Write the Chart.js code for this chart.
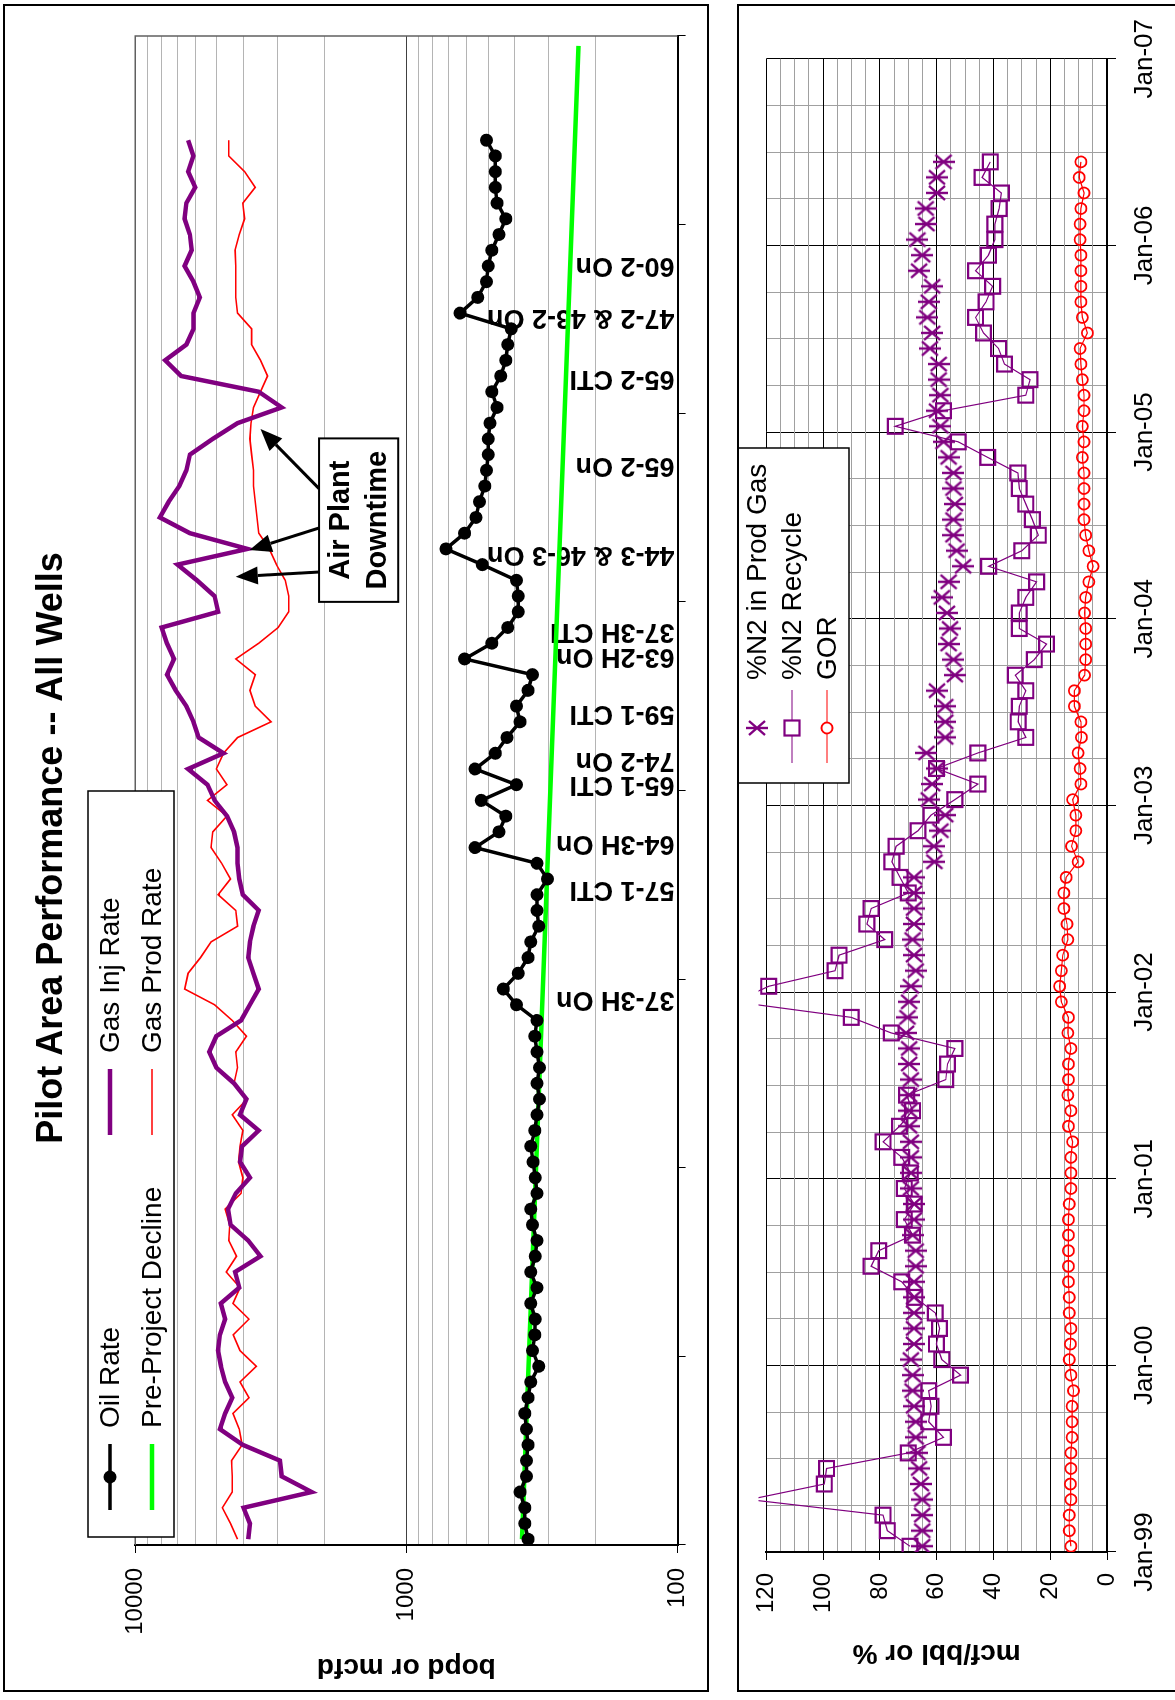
<!DOCTYPE html>
<html>
<head>
<meta charset="utf-8">
<title>Pilot Area Performance -- All Wells</title>
<script src="https://cdn.jsdelivr.net/npm/chart.js"></script>
<style>
  html, body { margin: 0; padding: 0; background: #fff; }
  body { width: 1175px; height: 1700px; overflow: hidden; position: relative; }
  /* the sheet is laid out landscape, then turned a quarter turn */
  #page { position: absolute; left: 0; top: 1700px; width: 1700px; height: 1175px;
          transform-origin: 0 0; transform: rotate(-90deg); }
  .frame { position: absolute; border: 2px solid #000; box-sizing: border-box; background: #fff; overflow: hidden; }
  #rateFrame { left: 8px; top: 3px; width: 1688px; height: 706px; }
  #ratioFrame { left: 8px; top: 737px; width: 1688px; height: 500px; }
  canvas { display: block; }
</style>
</head>
<body>
<div id="page">
  <div class="frame" id="rateFrame"><canvas id="rateChart" width="1684" height="702"></canvas></div>
  <div class="frame" id="ratioFrame"><canvas id="ratioChart" width="1684" height="496"></canvas></div>
</div>
<script>
// months counted from Jan-99, one value per month
const yearLabels = ['Jan-99', 'Jan-00', 'Jan-01', 'Jan-02', 'Jan-03', 'Jan-04', 'Jan-05', 'Jan-06', 'Jan-07'];

const oilRate = [
  356, 366, 366, 381, 361, 361, 356, 361, 366, 356,
  348, 325, 343, 336, 335, 348, 330, 348, 335, 330,
  343, 348, 330, 335, 341, 348, 336, 330, 323, 330,
  323, 330, 336, 330, 393, 439, 387, 356, 348, 325,
  330, 330, 302, 330, 558, 456, 430, 530, 393, 558,
  470, 426, 381, 393, 356, 343, 610, 484, 423, 387,
  387, 393, 525, 715, 610, 554, 538, 514, 507, 499,
  499, 492, 463, 484, 449, 430, 423, 411, 634, 546,
  507, 499, 484, 456, 430, 463, 470, 470, 470, 507
];

const gasInjRate = [
  3832, 3776, 3986, 2235, 2883, 2927, 4010, 4873, 4659, 4387,
  4659, 4830, 4947, 4873, 4659, 4830, 4131, 4282, 3451, 3832,
  4453, 4547, 4256, 3776, 4107, 4034, 3504, 4107, 3890, 4321,
  5022, 5331, 5022, 4071, 3776, 3504, 3664, 3832, 3776, 3664,
  3504, 4010, 4131, 4194, 4194, 4321, 4589, 5097, 5411, 6381,
  4727, 5833, 6099, 6476, 7087, 7638, 7195, 7638, 7988, 4947,
  5097, 5920, 6982, 3855, 6286, 8110, 7522, 6877, 6476, 6286,
  5174, 4194, 2883, 3504, 6775, 7752, 6476, 6099, 6099, 5781,
  6099, 6574, 6192, 6286, 6574, 6476, 6009, 6381, 6099, 6381
];

const gasProdRate = [
  4194, 4453, 4770, 4387, 4387, 4413, 4034, 4131, 4361, 3806,
  4107, 3578, 4107, 4348, 3806, 4361, 4107, 4617, 4231, 4520,
  4481, 4659, 4071, 4010, 4156, 4107, 4010, 4387, 3867, 4321,
  4194, 4256, 3890, 4387, 5097, 6574, 6381, 5745, 5251, 4194,
  4256, 4947, 4453, 4800, 5251, 5174, 4589, 5411, 4589, 5022,
  4727, 4194, 3155, 3610, 3776, 3610, 4256, 3504, 2971, 2716,
  2716, 2798, 3015, 3202, 3504, 3556, 3610, 3664, 3664, 3720,
  3776, 3742, 3664, 3451, 3250, 3451, 3720, 3720, 4194, 4256,
  4256, 4256, 4282, 4131, 3950, 4010, 3610, 3950, 4520, 4520
];

// pre-project decline: straight line on the log scale
const declineMonths = [0, 95];
const declineRate = [375, 232];

const n2ProdGas = [
  65.1, 65.1, 65.1, 65.1, 65.6, 66.2, 66.8, 67.4, 67.4, 68.0,
  68.5, 68.5, 69.1, 68.0, 68.0, 68.0, 68.0, 68.0, 67.4, 67.4,
  68.5, 68.0, 68.0, 69.1, 69.1, 69.1, 69.1, 69.7, 69.7, 69.7,
  69.1, 69.7, 69.7, 70.8, 70.3, 69.7, 69.1, 67.4, 68.0, 68.5,
  68.0, 68.0, 68.0, 68.0, 60.8, 61.0, 58.7, 57.0, 62.8, 61.6,
  59.9, 63.6, 57.0, 57.0, 57.0, 59.9, 53.6, 54.1, 55.8, 55.3,
  56.4, 58.2, 55.8, 50.7, 53.0, 54.1, 54.1, 53.6, 54.1, 54.1,
  55.8, 57.6, 58.7, 59.9, 58.7, 59.3, 59.3, 62.4, 61.6, 63.3,
  62.8, 61.6, 66.2, 65.1, 66.8, 63.6, 63.9, 59.9, 59.9, 57.6
];

const n2Recycle = [
  69.4, 77.4, 78.9, 126, 99.6, 98.8, 70.0, 57.6, 62.8, 62.0,
  62.8, 51.6, 58.2, 60.1, 59.0, 60.5, 67.7, 72.3, 83.1, 80.4,
  68.5, 71.4, 67.9, 71.4, 69.3, 72.3, 78.9, 73.1, 68.5, 70.6,
  56.8, 56.2, 53.6, 76.0, 90.1, 131, 119.2, 95.8, 94.4, 78.3,
  84.6, 83.1, 70.0, 72.9, 75.8, 74.3, 66.6, 62.0, 53.6, 45.5,
  60.1, 45.5, 28.6, 31.3, 30.9, 28.6, 32.3, 25.6, 21.3, 30.9,
  30.9, 28.6, 24.8, 41.7, 30.0, 24.2, 26.3, 28.6, 30.9, 31.4,
  42.0, 52.4, 74.6, 57.6, 28.6, 27.1, 36.1, 38.2, 43.5, 46.3,
  42.6, 40.3, 46.3, 41.8, 39.5, 39.5, 38.0, 37.2, 44.0, 41.1
];

const gor = [
  12.7, 13.3, 13.3, 12.7, 12.9, 12.7, 12.7, 12.3, 12.3, 12.3,
  11.8, 12.7, 13.3, 12.9, 12.7, 13.3, 13.3, 13.6, 13.6, 13.6,
  13.6, 13.6, 13.3, 12.7, 12.7, 12.7, 12.1, 13.6, 12.7, 13.8,
  13.6, 13.6, 12.7, 13.8, 13.6, 16.1, 16.7, 16.1, 15.6, 13.8,
  14.1, 15.2, 15.2, 14.4, 10.2, 12.5, 11.0, 11.0, 12.1, 9.2,
  9.5, 10.2, 9.0, 9.2, 11.5, 11.5, 7.9, 7.5, 7.5, 7.5,
  7.9, 7.5, 6.4, 4.9, 6.4, 7.5, 8.1, 8.1, 8.1, 8.1,
  8.7, 8.1, 8.7, 8.1, 8.1, 8.7, 9.2, 9.5, 6.9, 8.7,
  9.2, 9.2, 9.2, 9.2, 9.5, 9.5, 9.2, 8.1, 9.8, 9.2
];

const rateTickLabels = [100, 1000, 10000];
const ratioTickLabels = [0, 20, 40, 60, 80, 100, 120];

// well events, written along the bottom of the rate plot
const eventLabels = ['37-3H On', '57-1 CTI', '64-3H On', '65-1 CTI', '74-2 On', '59-1 CTI', '63-2H On',
  '37-3H CTI', '44-3 & 46-3 On', '65-2 On', '65-2 CTI', '47-2 & 43-2 On', '60-2 On'];
const eventMonths = [34.7, 41.7, 44.6, 48.4, 49.9, 52.9, 56.5, 58.1, 63.0, 68.7, 74.2, 78.1, 81.4];

const dayOffset = 0.37; // samples sit a little after the 1st of the month
const FONT = '"Liberation Sans", Arial, Helvetica, sans-serif';
Chart.defaults.font.family = FONT;
Chart.defaults.color = '#000';

const monthly = values => values.map((v, i) => ({ x: i + dayOffset, y: v }));

// gridline positions
const rateGrid = [];
for (let d = 100; d < 10000; d *= 10) for (let k = 1; k < 10; k++) rateGrid.push(k * d);
rateGrid.push(10000);
const ratioGrid = [];
for (let v = 0; v <= 120; v += 5) ratioGrid.push(v);
const quarterGrid = [];
for (let m = 0; m <= 96; m += 3) quarterGrid.push(m);

// excel style star: an X with an upright bar
function starMarker() {
  const c = document.createElement('canvas');
  c.width = 18; c.height = 22;
  const g = c.getContext('2d');
  g.strokeStyle = '#800080';
  g.lineWidth = 2.4;
  g.beginPath();
  g.moveTo(2, 3); g.lineTo(16, 19);
  g.moveTo(16, 3); g.lineTo(2, 19);
  g.moveTo(9, 0); g.lineTo(9, 22);
  g.stroke();
  return c;
}
const star = starMarker();

// ---------- rate chart plugins ----------
const rateFrameEdges = {
  id: 'rateFrameEdges',
  beforeDatasetsDraw(chart) {
    const { ctx, chartArea: a } = chart;
    ctx.save();
    ctx.strokeStyle = '#606060';
    ctx.lineWidth = 1.5;
    ctx.beginPath();
    ctx.moveTo(a.left, a.top);
    ctx.lineTo(a.right, a.top);
    ctx.lineTo(a.right, a.bottom);
    ctx.stroke();
    ctx.restore();
  }
};

const eventText = {
  id: 'eventText',
  beforeDatasetsDraw(chart) {
    const { ctx, chartArea, scales: { x } } = chart;
    ctx.save();
    ctx.font = 'bold 27px ' + FONT;
    ctx.fillStyle = '#000';
    ctx.textAlign = 'left';
    ctx.textBaseline = 'middle';
    eventLabels.forEach((t, i) => {
      ctx.save();
      ctx.translate(x.getPixelForValue(eventMonths[i]), chartArea.bottom - 3);
      ctx.rotate(-Math.PI / 2);
      ctx.fillText(t, 0, 0);
      ctx.restore();
    });
    ctx.restore();
  }
};

const rateLegend = {
  id: 'rateLegend',
  afterDatasetsDraw(chart) {
    const ctx = chart.ctx;
    const ds = chart.data.datasets;
    ctx.save();
    ctx.fillStyle = '#fff';
    ctx.fillRect(153, 83, 746, 86);
    ctx.strokeStyle = '#000';
    ctx.lineWidth = 1.5;
    ctx.strokeRect(153, 83, 746, 86);
    const slots = [[180, 105], [180, 147], [555, 105], [555, 147]];
    ctx.font = '28px ' + FONT;
    ctx.textBaseline = 'middle';
    ds.forEach((d, i) => {
      const [lx, ly] = slots[i];
      ctx.strokeStyle = d.borderColor;
      ctx.lineWidth = d.borderWidth;
      ctx.beginPath();
      ctx.moveTo(lx, ly);
      ctx.lineTo(lx + 66, ly);
      ctx.stroke();
      if (d.pointRadius > 0) {
        ctx.fillStyle = d.pointBackgroundColor;
        ctx.beginPath();
        ctx.arc(lx + 33, ly, d.pointRadius, 0, Math.PI * 2);
        ctx.fill();
      }
      ctx.fillStyle = '#000';
      ctx.fillText(d.label, lx + 82, ly + 1);
    });
    ctx.restore();
  }
};

const airPlantNote = {
  id: 'airPlantNote',
  afterDatasetsDraw(chart) {
    const { ctx, scales: { x, y } } = chart;
    const x1 = x.getPixelForValue(60.0), x2 = x.getPixelForValue(70.4);
    const y1 = y.getPixelForValue(2099), y2 = y.getPixelForValue(1072);
    const arrows = [[67.2, 71.0, 3451], [64.7, 63.3, 3789], [61.9, 61.6, 4256]];
    ctx.save();
    ctx.strokeStyle = '#000';
    ctx.fillStyle = '#000';
    arrows.forEach(([fromM, toM, toV]) => {
      const sx = x.getPixelForValue(fromM), sy = y1;
      const tx = x.getPixelForValue(toM), ty = y.getPixelForValue(toV);
      const ang = Math.atan2(ty - sy, tx - sx);
      const head = 22, half = 9;
      const bx = tx - head * Math.cos(ang), by = ty - head * Math.sin(ang);
      ctx.lineWidth = 3;
      ctx.beginPath();
      ctx.moveTo(sx, sy);
      ctx.lineTo(bx, by);
      ctx.stroke();
      ctx.beginPath();
      ctx.moveTo(tx, ty);
      ctx.lineTo(bx + half * Math.sin(ang), by - half * Math.cos(ang));
      ctx.lineTo(bx - half * Math.sin(ang), by + half * Math.cos(ang));
      ctx.closePath();
      ctx.fill();
    });
    ctx.fillStyle = '#fff';
    ctx.fillRect(x1, y1, x2 - x1, y2 - y1);
    ctx.lineWidth = 2;
    ctx.strokeRect(x1, y1, x2 - x1, y2 - y1);
    ctx.fillStyle = '#000';
    ctx.font = 'bold 29px ' + FONT;
    ctx.textAlign = 'center';
    ctx.textBaseline = 'middle';
    ctx.fillText('Air Plant', (x1 + x2) / 2, y1 + 22);
    ctx.fillText('Downtime', (x1 + x2) / 2, y1 + 59);
    ctx.restore();
  }
};

new Chart(document.getElementById('rateChart'), {
  type: 'line',
  data: {
    datasets: [
      { label: 'Oil Rate', data: monthly(oilRate), borderColor: '#000', borderWidth: 3.5,
        pointRadius: 6.5, pointBackgroundColor: '#000', pointBorderWidth: 0, tension: 0 },
      { label: 'Pre-Project Decline', data: declineMonths.map((m, i) => ({ x: m + dayOffset, y: declineRate[i] })),
        borderColor: '#00ff00', borderWidth: 4.5, pointRadius: 0 },
      { label: 'Gas Inj Rate', data: monthly(gasInjRate), borderColor: '#800080', borderWidth: 4.5, pointRadius: 0 },
      { label: 'Gas Prod Rate', data: monthly(gasProdRate), borderColor: '#ff0000', borderWidth: 1.6, pointRadius: 0 }
    ]
  },
  options: {
    responsive: false,
    animation: false,
    layout: { padding: 0 },
    plugins: {
      legend: { display: false },
      tooltip: { enabled: false },
      title: {
        display: true,
        text: 'Pilot Area Performance -- All Wells',
        color: '#000',
        font: { size: 36, weight: 'bold' },
        padding: { top: 25, bottom: 62 }
      }
    },
    scales: {
      x: {
        type: 'linear', min: 0, max: 96, position: 'bottom',
        ticks: { stepSize: 12, autoSkip: false, maxRotation: 0, callback: () => '' },
        grid: { drawOnChartArea: false, tickLength: 8, tickColor: '#000' },
        border: { color: '#000', width: 2 },
        afterFit: s => { s.height = 24; }
      },
      y: {
        type: 'logarithmic', min: 100, max: 10000, position: 'left',
        afterBuildTicks: s => { s.ticks = rateGrid.map(v => ({ value: v })); },
        ticks: {
          autoSkip: false, padding: 15, font: { size: 24 },
          callback: v => rateTickLabels.includes(v) ? String(v) : ''
        },
        grid: {
          color: c => (c.tick && rateTickLabels.includes(c.tick.value)) ? '#404040' : '#b4b4b4',
          tickColor: c => (c.tick && rateTickLabels.includes(c.tick.value)) ? '#000' : 'rgba(0,0,0,0)',
          tickLength: 8
        },
        border: { color: '#000', width: 2 },
        title: { display: true, text: 'bopd or mcfd', font: { size: 28, weight: 'bold' }, padding: { top: 6, bottom: 0 } },
        afterFit: s => { s.width = 145; }
      },
      spacer: {
        type: 'linear', position: 'right', display: true,
        grid: { display: false }, border: { display: false }, ticks: { display: false },
        afterFit: s => { s.width = 30; }
      }
    }
  },
  plugins: [rateFrameEdges, eventText, rateLegend, airPlantNote]
});

// ---------- ratio chart ----------
const ratioLegend = {
  id: 'ratioLegend',
  afterDatasetsDraw(chart) {
    const ctx = chart.ctx;
    const ds = chart.data.datasets;
    ctx.save();
    ctx.fillStyle = '#fff';
    ctx.fillRect(907, -1, 335, 111);
    ctx.strokeStyle = '#000';
    ctx.lineWidth = 1.5;
    ctx.strokeRect(907, -1, 335, 111);
    ctx.font = '28px ' + FONT;
    ctx.textBaseline = 'middle';
    const rows = [18, 53, 88];
    const mx = 962;
    ds.forEach((d, i) => {
      const ly = rows[i];
      if (d.showLine !== false) {
        ctx.strokeStyle = d.borderColor;
        ctx.lineWidth = 1.2;
        ctx.beginPath();
        ctx.moveTo(mx - 35, ly);
        ctx.lineTo(mx + 38, ly);
        ctx.stroke();
      }
      if (i === 0) {
        ctx.drawImage(star, mx - 9, ly - 11);
      } else if (i === 1) {
        ctx.fillStyle = '#fff';
        ctx.fillRect(mx - 7.5, ly - 7.5, 15, 15);
        ctx.strokeStyle = '#800080';
        ctx.lineWidth = 2.2;
        ctx.strokeRect(mx - 7.5, ly - 7.5, 15, 15);
      } else {
        ctx.fillStyle = '#fff';
        ctx.strokeStyle = '#ff0000';
        ctx.lineWidth = 1.8;
        ctx.beginPath();
        ctx.arc(mx, ly, 5.5, 0, Math.PI * 2);
        ctx.fill();
        ctx.stroke();
      }
      ctx.fillStyle = '#000';
      ctx.fillText(d.label, 1010, ly + 1);
    });
    ctx.restore();
  }
};

new Chart(document.getElementById('ratioChart'), {
  type: 'line',
  data: {
    datasets: [
      { label: '%N2 in Prod Gas', data: monthly(n2ProdGas), showLine: false,
        pointStyle: star, pointRadius: 9, borderColor: '#800080' },
      { label: '%N2 Recycle', data: monthly(n2Recycle), borderColor: '#800080', borderWidth: 1.2,
        pointStyle: 'rect', pointRadius: c => (c.raw && c.raw.y > 120) ? 0 : 10.5,
        pointBorderColor: '#800080', pointBackgroundColor: 'rgba(0,0,0,0)', pointBorderWidth: 2.2,
        clip: { left: 0, top: 8, right: 0, bottom: 0 } },
      { label: 'GOR', data: monthly(gor), borderColor: '#ff0000', borderWidth: 1.2,
        pointStyle: 'circle', pointRadius: 5.5, pointBorderColor: '#ff0000',
        pointBackgroundColor: 'rgba(0,0,0,0)', pointBorderWidth: 1.8 }
    ]
  },
  options: {
    responsive: false,
    animation: false,
    layout: { padding: { top: 20 } },
    plugins: { legend: { display: false }, tooltip: { enabled: false } },
    scales: {
      x: {
        type: 'linear', min: 0, max: 96, position: 'bottom',
        afterBuildTicks: s => { s.ticks = quarterGrid.map(v => ({ value: v })); },
        ticks: {
          autoSkip: false, maxRotation: 0, minRotation: 0, padding: 13, font: { size: 26 },
          callback: v => v % 12 === 0 ? yearLabels[v / 12] : ''
        },
        grid: {
          color: c => (c.tick && c.tick.value % 12 === 0) ? '#000' : '#a0a0a0',
          tickColor: c => (c.tick && c.tick.value % 12 === 0) ? '#000' : 'rgba(0,0,0,0)',
          tickLength: 9
        },
        border: { color: '#000', width: 2 },
        afterFit: s => { s.height = 128; }
      },
      y: {
        type: 'linear', min: 0, max: 120, position: 'left',
        afterBuildTicks: s => { s.ticks = ratioGrid.map(v => ({ value: v })); },
        ticks: {
          autoSkip: false, padding: 13, font: { size: 24 },
          callback: v => ratioTickLabels.includes(v) ? String(v) : ''
        },
        grid: {
          color: c => (c.tick && ratioTickLabels.includes(c.tick.value)) ? '#000' : '#a0a0a0',
          tickColor: c => (c.tick && ratioTickLabels.includes(c.tick.value)) ? '#000' : 'rgba(0,0,0,0)',
          tickLength: 8
        },
        border: { color: '#000', width: 2 },
        title: { display: true, text: 'mcf/bbl or %', font: { size: 28, weight: 'bold' }, padding: { top: 20, bottom: 0 } },
        afterFit: s => { s.width = 138; }
      },
      spacer: {
        type: 'linear', position: 'right', display: true,
        grid: { display: false }, border: { display: false }, ticks: { display: false },
        afterFit: s => { s.width = 37; }
      }
    }
  },
  plugins: [ratioLegend]
});
</script>
</body>
</html>
